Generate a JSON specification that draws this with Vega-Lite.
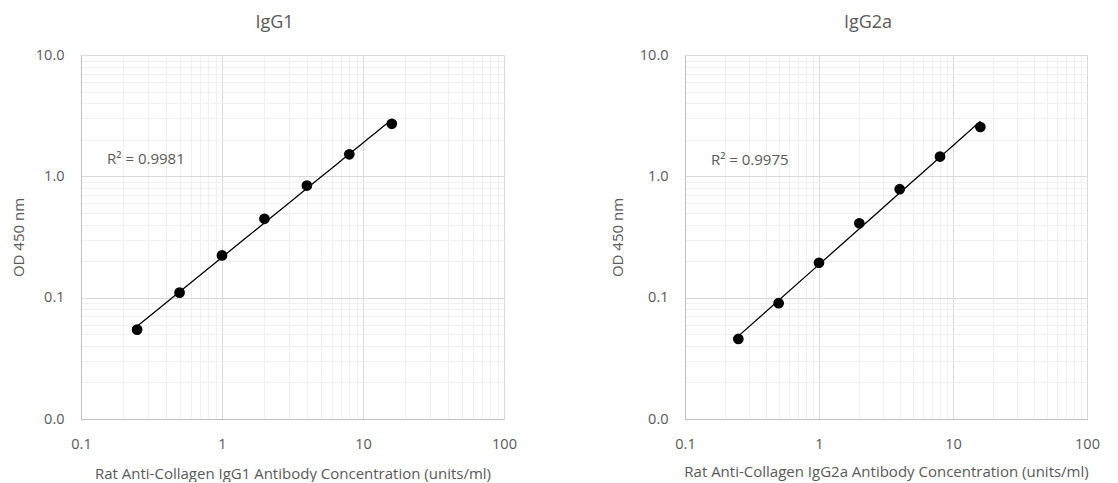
{
  "$schema": "https://vega.github.io/schema/vega-lite/v6.json",
  "background": "white",
  "padding": {"left": 11, "top": 14, "right": 0, "bottom": 0},
  "spacing": 93,
  "datasets": {
    "points": [
      {"panel": "IgG1", "conc": 0.25, "od": 0.0545},
      {"panel": "IgG1", "conc": 0.5, "od": 0.110},
      {"panel": "IgG1", "conc": 1, "od": 0.223},
      {"panel": "IgG1", "conc": 2, "od": 0.447},
      {"panel": "IgG1", "conc": 4, "od": 0.840},
      {"panel": "IgG1", "conc": 8, "od": 1.52},
      {"panel": "IgG1", "conc": 16, "od": 2.71},
      {"panel": "IgG2a", "conc": 0.25, "od": 0.0457},
      {"panel": "IgG2a", "conc": 0.5, "od": 0.090},
      {"panel": "IgG2a", "conc": 1, "od": 0.194},
      {"panel": "IgG2a", "conc": 2, "od": 0.41},
      {"panel": "IgG2a", "conc": 4, "od": 0.783},
      {"panel": "IgG2a", "conc": 8, "od": 1.455},
      {"panel": "IgG2a", "conc": 16, "od": 2.55}
    ],
    "notes": [
      {"panel": "IgG1", "conc": 0.153, "od": 1.39, "label": "R² = 0.9981"},
      {"panel": "IgG2a", "conc": 0.156, "od": 1.36, "label": "R² = 0.9975"}
    ]
  },
  "config": {
    "view": {"stroke": null},
    "font": "Open Sans",
    "title": {"font": "Open Sans", "fontSize": 18, "fontWeight": "normal", "color": "#595959", "offset": 15, "dx": -18, "frame": "group"},
    "axis": {
      "labelFont": "Open Sans", "labelFontSize": 14.5, "labelColor": "#595959",
      "titleFont": "Open Sans", "titleFontSize": 15, "titleColor": "#595959", "titleFontWeight": "normal",
      "ticks": false, "tickSize": 0, "domainColor": "#bfbfbf", "labelOverlap": false, "labelFlush": false,
      "gridWidth": 1
    }
  },
  "hconcat": [
    {
      "title": "IgG1",
      "width": 423, "height": 364,
      "data": {"name": "points"},
      "transform": [{"filter": "datum.panel == 'IgG1'"}],
      "encoding": {
        "x": {"field": "conc", "type": "quantitative",
          "scale": {"type": "log", "domain": [0.1, 100], "nice": false},
          "axis": {"title": "Rat Anti-Collagen IgG1 Antibody Concentration (units/ml)",
            "values": [0.1,0.2,0.3,0.4,0.5,0.6,0.7,0.8,0.9,1,2,3,4,5,6,7,8,9,10,20,30,40,50,60,70,80,90,100],
            "labelExpr": "indexof([0.1,1,10,100], datum.value) >= 0 ? format(datum.value, '~g') : ''",
            "gridColor": {"condition": {"test": "indexof([0.1,1,10,100], datum.value) >= 0", "value": "#d9d9d9"}, "value": "#f0f0f0"},
            "labelPadding": 18, "titlePadding": 16}},
        "y": {"field": "od", "type": "quantitative",
          "scale": {"type": "log", "domain": [0.01, 10], "nice": false},
          "axis": {"title": "OD 450 nm",
            "values": [0.01,0.02,0.03,0.04,0.05,0.06,0.07,0.08,0.09,0.1,0.2,0.3,0.4,0.5,0.6,0.7,0.8,0.9,1,2,3,4,5,6,7,8,9,10],
            "labelExpr": "indexof([0.01,0.1,1,10], datum.value) >= 0 ? format(datum.value, '.1f') : ''",
            "gridColor": {"condition": {"test": "indexof([0.01,0.1,1,10], datum.value) >= 0", "value": "#d9d9d9"}, "value": "#f0f0f0"},
            "labelPadding": 17, "titlePadding": 9}}
      },
      "layer": [
        {"transform": [{"regression": "od", "on": "conc", "method": "pow"}],
         "mark": {"type": "line", "color": "black", "strokeWidth": 1.3}},
        {"mark": {"type": "circle", "color": "black", "opacity": 1, "size": 115}},
        {"data": {"name": "notes"},
         "transform": [{"filter": "datum.panel == 'IgG1'"}],
         "mark": {"type": "text", "align": "left", "baseline": "middle", "fontSize": 15, "color": "#595959", "font": "Open Sans"},
         "encoding": {"text": {"field": "label"}}}
      ]
    },
    {
      "title": "IgG2a",
      "width": 402, "height": 364,
      "data": {"name": "points"},
      "transform": [{"filter": "datum.panel == 'IgG2a'"}],
      "encoding": {
        "x": {"field": "conc", "type": "quantitative",
          "scale": {"type": "log", "domain": [0.1, 100], "nice": false},
          "axis": {"title": "Rat Anti-Collagen IgG2a Antibody Concentration (units/ml)",
            "values": [0.1,0.2,0.3,0.4,0.5,0.6,0.7,0.8,0.9,1,2,3,4,5,6,7,8,9,10,20,30,40,50,60,70,80,90,100],
            "labelExpr": "indexof([0.1,1,10,100], datum.value) >= 0 ? format(datum.value, '~g') : ''",
            "gridColor": {"condition": {"test": "indexof([0.1,1,10,100], datum.value) >= 0", "value": "#d9d9d9"}, "value": "#f0f0f0"},
            "labelPadding": 18, "titlePadding": 14}},
        "y": {"field": "od", "type": "quantitative",
          "scale": {"type": "log", "domain": [0.01, 10], "nice": false},
          "axis": {"title": "OD 450 nm",
            "values": [0.01,0.02,0.03,0.04,0.05,0.06,0.07,0.08,0.09,0.1,0.2,0.3,0.4,0.5,0.6,0.7,0.8,0.9,1,2,3,4,5,6,7,8,9,10],
            "labelExpr": "indexof([0.01,0.1,1,10], datum.value) >= 0 ? format(datum.value, '.1f') : ''",
            "gridColor": {"condition": {"test": "indexof([0.01,0.1,1,10], datum.value) >= 0", "value": "#d9d9d9"}, "value": "#f0f0f0"},
            "labelPadding": 17, "titlePadding": 14}}
      },
      "layer": [
        {"transform": [{"regression": "od", "on": "conc", "method": "pow"}],
         "mark": {"type": "line", "color": "black", "strokeWidth": 1.3}},
        {"mark": {"type": "circle", "color": "black", "opacity": 1, "size": 115}},
        {"data": {"name": "notes"},
         "transform": [{"filter": "datum.panel == 'IgG2a'"}],
         "mark": {"type": "text", "align": "left", "baseline": "middle", "fontSize": 15, "color": "#595959", "font": "Open Sans"},
         "encoding": {"text": {"field": "label"}}}
      ]
    }
  ]
}
